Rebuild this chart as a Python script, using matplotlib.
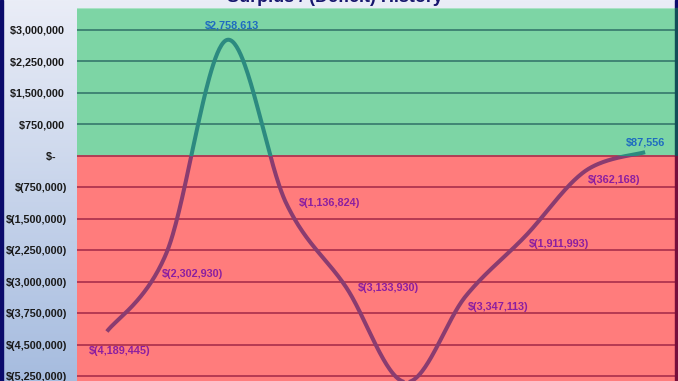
import numpy as np
import matplotlib
matplotlib.use("Agg")
import matplotlib.pyplot as plt
from matplotlib.patches import Rectangle

# ---- data ----
categories = ["1", "2", "3", "4", "5", "6", "7", "8", "9", "10"]
values = [-4189445, -2302930, 2758613, -1136824, -3133930,
          -5400000, -3347113, -1911993, -362168, 87556]
value_labels = ["$(4,189,445)", "$(2,302,930)", "$2,758,613", "$(1,136,824)",
                "$(3,133,930)", None, "$(3,347,113)", "$(1,911,993)",
                "$(362,168)", "$87,556"]
ytick_values = [3000000, 2250000, 1500000, 750000, 0, -750000, -1500000,
                -2250000, -3000000, -3750000, -4500000, -5250000]
title = "Surplus / (Deficit) History"

# label offsets in pixels (dx, dy) -- positions only
label_offsets = [(13, -20), (26, -22), (5, 15), (43, 0), (42, -1),
                 (0, 0), (32, -11), (33, -8), (29, -9), (0, 10)]

FONT = ["Liberation Sans", "DejaVu Sans"]

W, H = 678, 381
fig = plt.figure(figsize=(W / 100, H / 100), dpi=100)

# background gradient
bg = fig.add_axes([0, 0, 1, 1], zorder=-10)
top = np.array([0xea, 0xed, 0xf7]) / 255
bot = np.array([0xa6, 0xbc, 0xdf]) / 255
t = np.linspace(0, 1, 256)[:, None]
grad = top[None, :] * (1 - t) + bot[None, :] * t
bg.imshow(grad[:, None, :], aspect="auto", extent=[0, 1, 0, 1])
bg.set_xlim(0, 1); bg.set_ylim(0, 1)
bg.axis("off")

ax_left, ax_right, ax_top = 77, 675, 8
ax = fig.add_axes([ax_left / W, 0, (ax_right - ax_left) / W, (H - ax_top) / H])

y_top, y_bot = 3.524e6, -5.37e6
ax.set_xlim(-0.5, len(categories) - 0.5)
ax.set_ylim(y_bot, y_top)

green = "#7dd5a5"
red = "#ff7c7c"
ax.axhspan(0, y_top, color=green, zorder=0, lw=0)
ax.axhspan(y_bot, 0, color=red, zorder=0, lw=0)
ax.axhline(y_top, color="#a9e2c4", lw=1.5, zorder=1)

for v in ytick_values:
    if v > 0:
        ax.axhline(v, color="#3b7f70", lw=1.3, zorder=1)
    else:
        ax.axhline(v, color="#b0344f", lw=1.3, zorder=1)

# smooth (Bezier) curve like a spreadsheet smoothed line
x = np.arange(len(values), dtype=float)
y = np.array(values, dtype=float)
px = np.vstack([x, y]).T
xs, ys = [], []
n = len(px)
for i in range(n - 1):
    p0 = px[i - 1] if i > 0 else px[i]
    p1 = px[i]
    p2 = px[i + 1]
    p3 = px[i + 2] if i + 2 < n else px[i + 1]
    c1 = p1 + (p2 - p0) / 6
    c2 = p2 - (p3 - p1) / 6
    tt = np.linspace(0, 1, 60)[:, None]
    seg = ((1 - tt) ** 3) * p1 + 3 * ((1 - tt) ** 2) * tt * c1 + 3 * (1 - tt) * tt ** 2 * c2 + tt ** 3 * p2
    xs.append(seg[:, 0]); ys.append(seg[:, 1])
xs = np.concatenate(xs); ys = np.concatenate(ys)

l1, = ax.plot(xs, ys, color="#2c8a80", lw=2.9, solid_capstyle="butt", zorder=3)
l1.set_clip_path(Rectangle((-1, 0), 12, 1e8, transform=ax.transData))
l2, = ax.plot(xs, ys, color="#8a3c70", lw=2.9, solid_capstyle="butt", zorder=3)
l2.set_clip_path(Rectangle((-1, -1e8), 12, 1e8, transform=ax.transData))

for i, (v, lab) in enumerate(zip(values, value_labels)):
    if lab is None:
        continue
    dx, dy = label_offsets[i]
    col = "#1f6cc0" if v >= 0 else "#8c1fa0"
    ax.annotate(lab, (i, v), xytext=(dx, dy), textcoords="offset pixels",
                ha="center", va="center", fontsize=7.8, fontweight="bold",
                color=col, family=FONT, zorder=4)

def fmt(v):
    if v > 0:
        return f"${v:,.0f} "
    if v == 0:
        return "$-    "
    return f"$({-v:,.0f})"

ax.set_yticks(ytick_values)
ax.set_yticklabels([fmt(v) for v in ytick_values], fontsize=7.8,
                   fontweight="bold", color="#1a1a1a", family=FONT)
ax.tick_params(axis="y", length=0, pad=7.2)
ax.set_xticks([])
for s in ax.spines.values():
    s.set_visible(False)

# borders
fig.patches.append(Rectangle((0, 0), 3 / W, 1, transform=fig.transFigure,
                             color="#0b0b6b", zorder=5))
zero_px = H - (ax_top + (y_top - 0) / (y_top - y_bot) * (H - ax_top))
fig.patches.append(Rectangle((675 / W, (H - ax_top) / H), 3 / W, ax_top / H,
                             transform=fig.transFigure, color="#0b0b6b", zorder=5))
fig.patches.append(Rectangle((675 / W, zero_px / H), 3 / W, (H - ax_top - zero_px) / H,
                             transform=fig.transFigure, color="#124e58", zorder=5))
fig.patches.append(Rectangle((675 / W, 0), 3 / W, zero_px / H,
                             transform=fig.transFigure, color="#760f3c", zorder=5))

fig.text(335 / W, 1 - 1.5 / H, title, ha="center", va="baseline", fontsize=13,
         fontweight="bold", color="#16166e", family=FONT)

fig.savefig("out.png", dpi=100)
